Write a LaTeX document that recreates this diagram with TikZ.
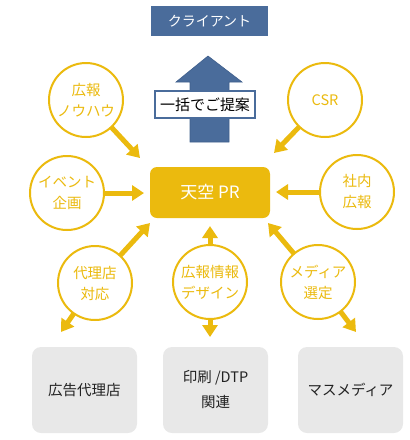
\documentclass[tikz,border=0pt]{standalone}
\usepackage{fontspec}
\setmainfont{Noto Sans CJK JP}
\usetikzlibrary{arrows.meta}
\definecolor{ty}{HTML}{EBBA0E}
\definecolor{tb}{HTML}{4A6C9B}
\definecolor{tbd}{HTML}{3F5F8C}
\definecolor{tg}{HTML}{E8E8E8}
\definecolor{tt}{HTML}{222222}
\tikzset{
  x=1pt,y=-1pt,
  circ/.style={circle,draw=ty,line width=2pt,fill=white,minimum size=74pt,inner sep=0pt,
    text=ty,font=\fontsize{14.5}{21}\selectfont,align=center},
  arr/.style={draw=ty,line width=5pt,-{Triangle[length=12pt,width=15pt]},shorten <=-1pt},
  outbox/.style={rectangle,rounded corners=9pt,fill=tg,minimum width=105pt,minimum height=86pt,
    inner sep=0pt,text=tt,font=\fontsize{14.5}{25}\selectfont,align=center},
}
\begin{document}
\begin{tikzpicture}
\useasboundingbox (0,0) rectangle (410,440);
% client box
\node[rectangle,fill=tb,minimum width=117pt,minimum height=30pt,inner sep=0pt,text=white,
  font=\fontsize{14}{16}\selectfont] (client) at (209.5,21) {クライアント};
% big arrow
\fill[tb,draw=tbd,line width=0.6pt] (208,56) -- (242,82) -- (229,82) -- (229,142) -- (190,142) -- (190,82) -- (176,82) -- cycle;
\node[rectangle,draw=tb,line width=1.5pt,fill=white,minimum width=100pt,minimum height=27pt,inner sep=0pt,
  text=black,font=\fontsize{15}{17}\selectfont] (teian) at (205,104.5) {一括でご提案};
% center box
\node[rectangle,rounded corners=7pt,fill=ty,minimum width=120pt,minimum height=51pt,inner sep=0pt,
  text=white,font=\fontsize{17}{20}\selectfont] (pr) at (210,192.5) {天空 PR};
% circles
\node[circ] (c1) at (86,100) {広報\\ノウハウ};
\node[circ] (c2) at (325,100) {CSR};
\node[circ] (c3) at (67,193) {イベント\\企画};
\node[circ] (c4) at (357,192) {社内\\広報};
\node[circ] (c5) at (95,283) {代理店\\対応};
\node[circ] (c6) at (210,282) {広報情報\\デザイン};
\node[circ] (c7) at (318,282) {メディア\\選定};
% tips
\coordinate (t1) at (140,158);
\coordinate (t2) at (274,153);
\coordinate (t3) at (144,193);
\coordinate (t4) at (276,192);
\coordinate (t5a) at (150,223);
\coordinate (t5b) at (61,332);
\coordinate (t6a) at (210,226);
\coordinate (t6b) at (210,337);
\coordinate (t7a) at (268,223);
\coordinate (t7b) at (356,332);
\draw[arr] (c1) -- (t1);
\draw[arr] (c2) -- (t2);
\draw[arr] (c3) -- (t3);
\draw[arr] (c4) -- (t4);
\draw[arr] (c5) -- (t5a);
\draw[arr] (c5) -- (t5b);
\draw[arr] (c6) -- (t6a);
\draw[arr] (c6) -- (t6b);
\draw[arr] (c7) -- (t7a);
\draw[arr] (c7) -- (t7b);
% bottom boxes
\node[outbox] (b1) at (84.5,390) {広告代理店};
\node[outbox] (b2) at (215.5,390) {印刷 /DTP\\関連};
\node[outbox] (b3) at (350.5,390) {マスメディア};
\end{tikzpicture}
\end{document}
